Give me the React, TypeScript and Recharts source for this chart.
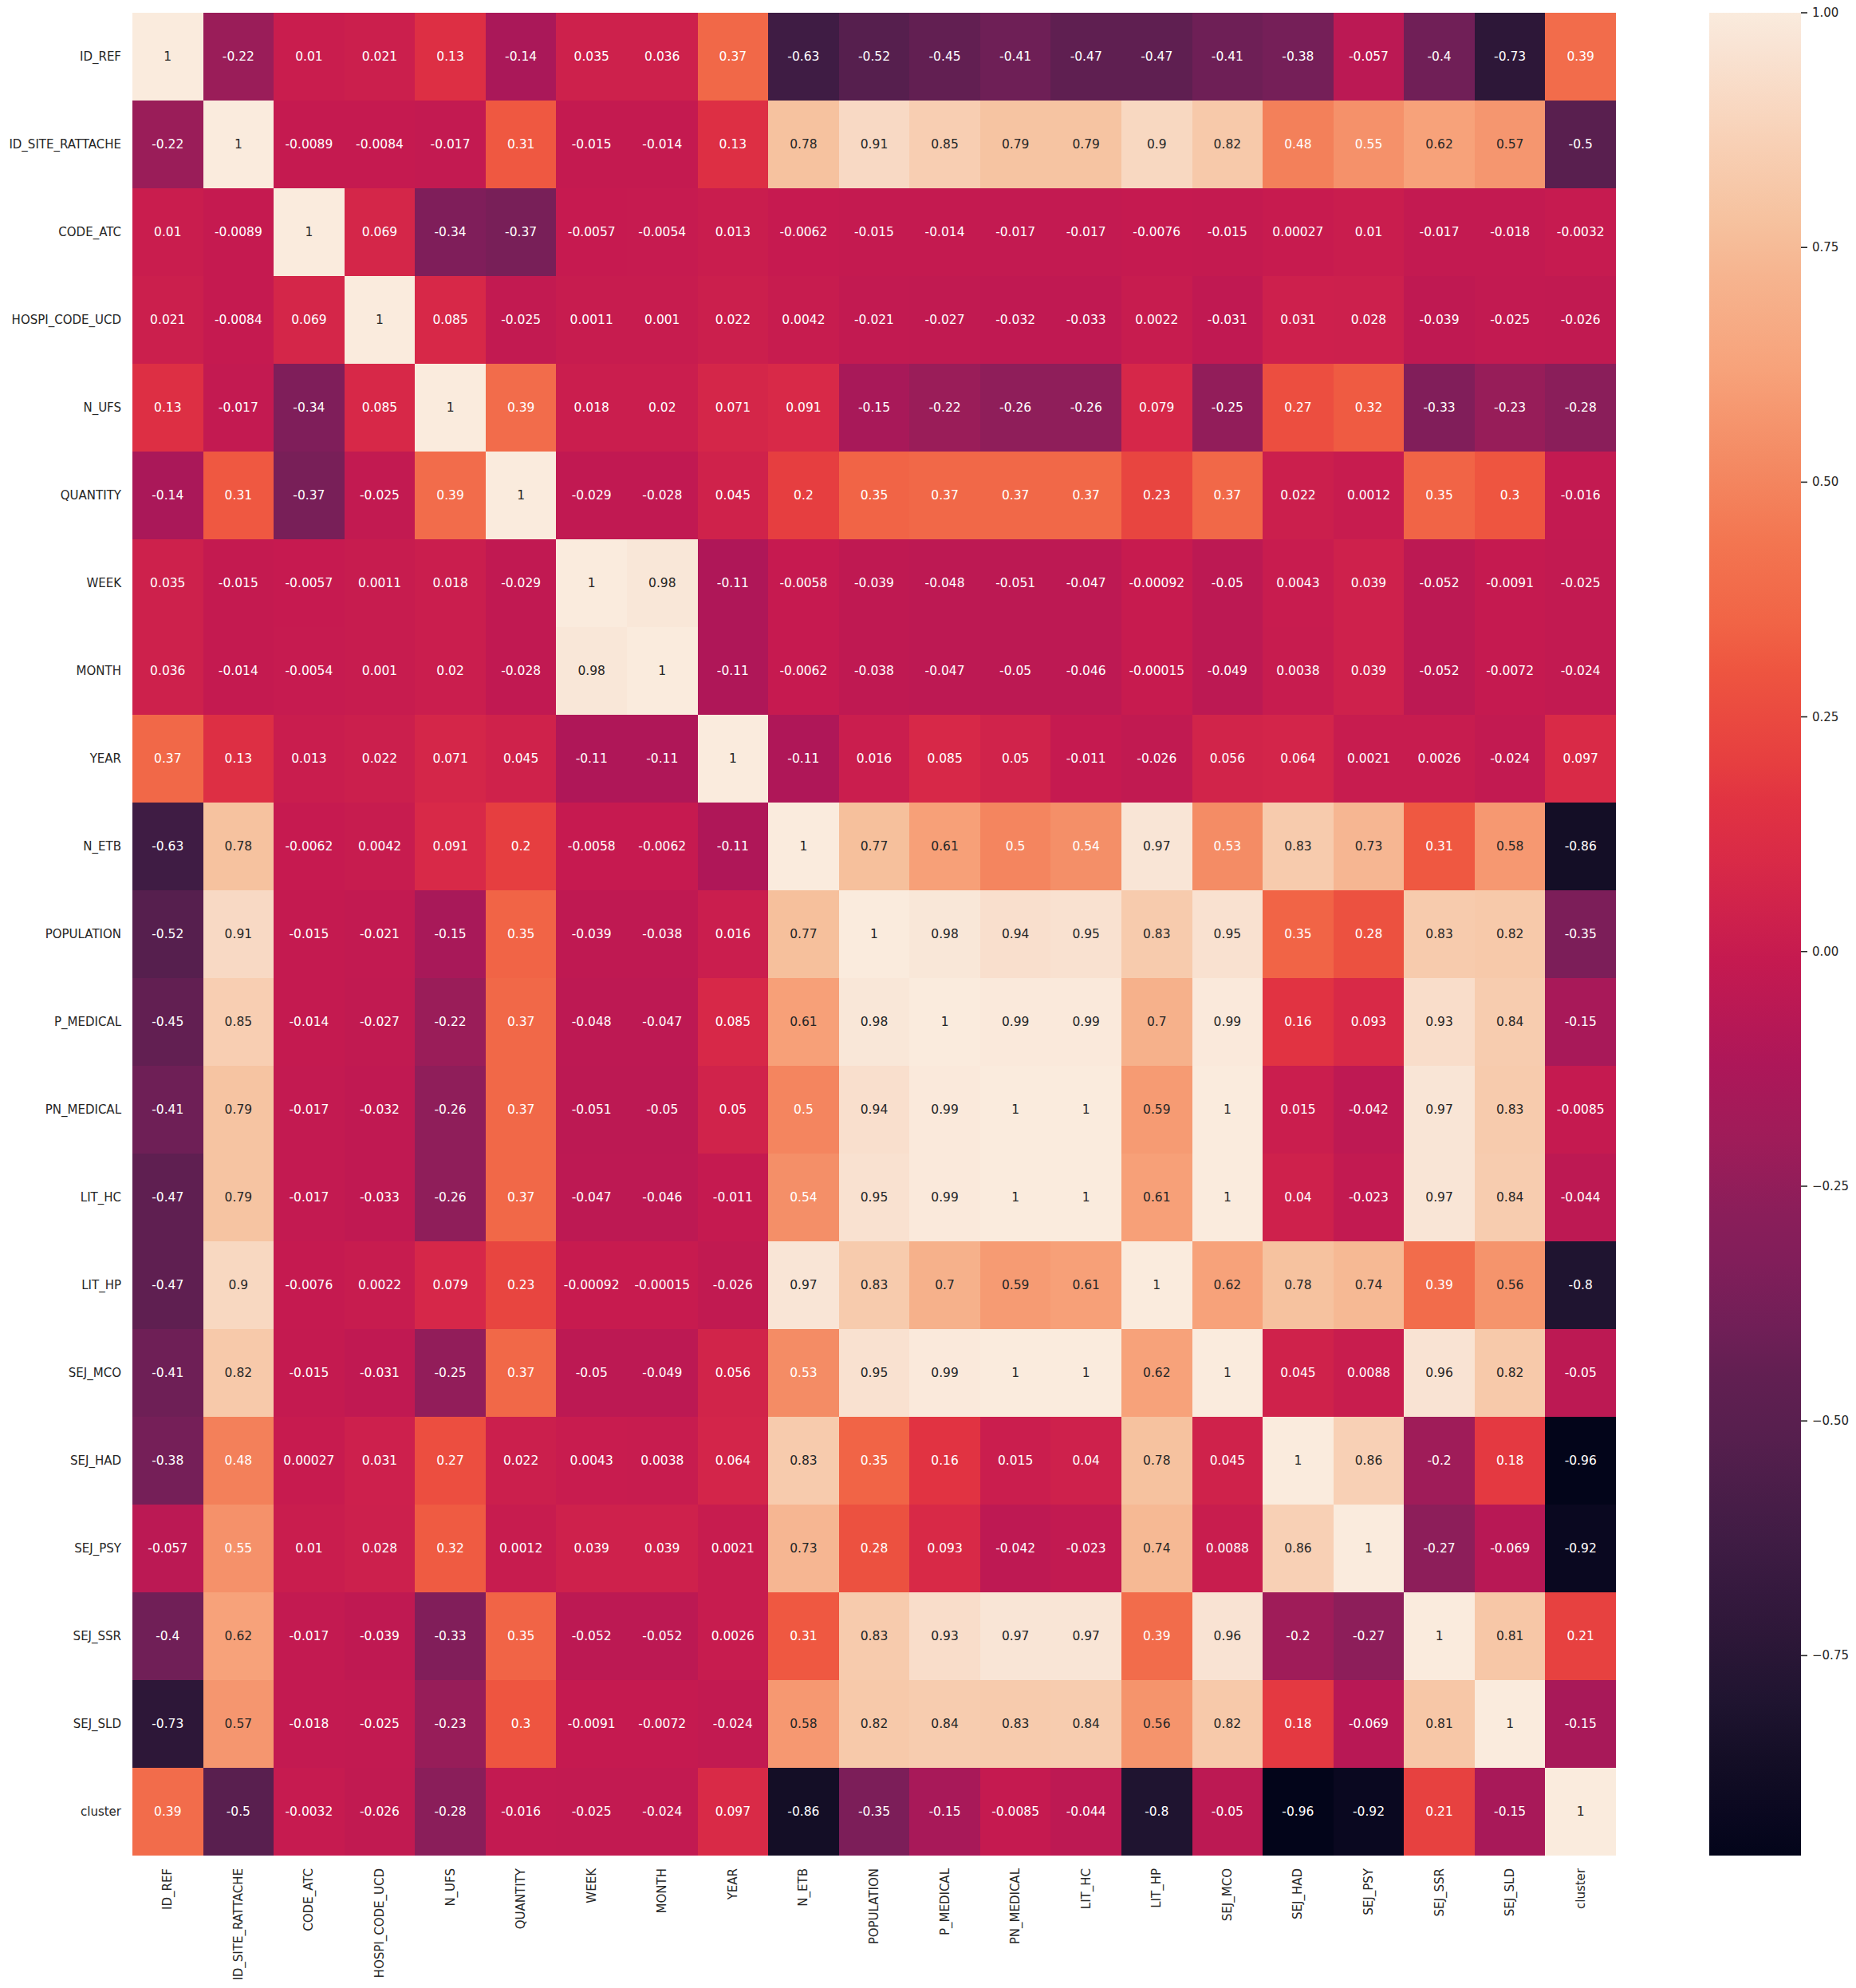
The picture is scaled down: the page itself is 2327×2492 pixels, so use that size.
import { ScatterChart, Scatter, XAxis, YAxis, BarChart, Bar } from 'recharts';

const LABELS = [
  'ID_REF', 'ID_SITE_RATTACHE', 'CODE_ATC', 'HOSPI_CODE_UCD', 'N_UFS', 'QUANTITY', 'WEEK',
  'MONTH', 'YEAR', 'N_ETB', 'POPULATION', 'P_MEDICAL', 'PN_MEDICAL', 'LIT_HC', 'LIT_HP',
  'SEJ_MCO', 'SEJ_HAD', 'SEJ_PSY', 'SEJ_SSR', 'SEJ_SLD', 'cluster',
];

// one row of the correlation matrix per variable
const ID_REF = [1, -0.22, 0.01, 0.021, 0.13, -0.14, 0.035, 0.036, 0.37, -0.63, -0.52, -0.45, -0.41, -0.47, -0.47, -0.41, -0.38, -0.057, -0.4, -0.73, 0.39];
const ID_SITE_RATTACHE = [-0.22, 1, -0.0089, -0.0084, -0.017, 0.31, -0.015, -0.014, 0.13, 0.78, 0.91, 0.85, 0.79, 0.79, 0.9, 0.82, 0.48, 0.55, 0.62, 0.57, -0.5];
const CODE_ATC = [0.01, -0.0089, 1, 0.069, -0.34, -0.37, -0.0057, -0.0054, 0.013, -0.0062, -0.015, -0.014, -0.017, -0.017, -0.0076, -0.015, 0.00027, 0.01, -0.017, -0.018, -0.0032];
const HOSPI_CODE_UCD = [0.021, -0.0084, 0.069, 1, 0.085, -0.025, 0.0011, 0.001, 0.022, 0.0042, -0.021, -0.027, -0.032, -0.033, 0.0022, -0.031, 0.031, 0.028, -0.039, -0.025, -0.026];
const N_UFS = [0.13, -0.017, -0.34, 0.085, 1, 0.39, 0.018, 0.02, 0.071, 0.091, -0.15, -0.22, -0.26, -0.26, 0.079, -0.25, 0.27, 0.32, -0.33, -0.23, -0.28];
const QUANTITY = [-0.14, 0.31, -0.37, -0.025, 0.39, 1, -0.029, -0.028, 0.045, 0.2, 0.35, 0.37, 0.37, 0.37, 0.23, 0.37, 0.022, 0.0012, 0.35, 0.3, -0.016];
const WEEK = [0.035, -0.015, -0.0057, 0.0011, 0.018, -0.029, 1, 0.98, -0.11, -0.0058, -0.039, -0.048, -0.051, -0.047, -0.00092, -0.05, 0.0043, 0.039, -0.052, -0.0091, -0.025];
const MONTH = [0.036, -0.014, -0.0054, 0.001, 0.02, -0.028, 0.98, 1, -0.11, -0.0062, -0.038, -0.047, -0.05, -0.046, -0.00015, -0.049, 0.0038, 0.039, -0.052, -0.0072, -0.024];
const YEAR = [0.37, 0.13, 0.013, 0.022, 0.071, 0.045, -0.11, -0.11, 1, -0.11, 0.016, 0.085, 0.05, -0.011, -0.026, 0.056, 0.064, 0.0021, 0.0026, -0.024, 0.097];
const N_ETB = [-0.63, 0.78, -0.0062, 0.0042, 0.091, 0.2, -0.0058, -0.0062, -0.11, 1, 0.77, 0.61, 0.5, 0.54, 0.97, 0.53, 0.83, 0.73, 0.31, 0.58, -0.86];
const POPULATION = [-0.52, 0.91, -0.015, -0.021, -0.15, 0.35, -0.039, -0.038, 0.016, 0.77, 1, 0.98, 0.94, 0.95, 0.83, 0.95, 0.35, 0.28, 0.83, 0.82, -0.35];
const P_MEDICAL = [-0.45, 0.85, -0.014, -0.027, -0.22, 0.37, -0.048, -0.047, 0.085, 0.61, 0.98, 1, 0.99, 0.99, 0.7, 0.99, 0.16, 0.093, 0.93, 0.84, -0.15];
const PN_MEDICAL = [-0.41, 0.79, -0.017, -0.032, -0.26, 0.37, -0.051, -0.05, 0.05, 0.5, 0.94, 0.99, 1, 1, 0.59, 1, 0.015, -0.042, 0.97, 0.83, -0.0085];
const LIT_HC = [-0.47, 0.79, -0.017, -0.033, -0.26, 0.37, -0.047, -0.046, -0.011, 0.54, 0.95, 0.99, 1, 1, 0.61, 1, 0.04, -0.023, 0.97, 0.84, -0.044];
const LIT_HP = [-0.47, 0.9, -0.0076, 0.0022, 0.079, 0.23, -0.00092, -0.00015, -0.026, 0.97, 0.83, 0.7, 0.59, 0.61, 1, 0.62, 0.78, 0.74, 0.39, 0.56, -0.8];
const SEJ_MCO = [-0.41, 0.82, -0.015, -0.031, -0.25, 0.37, -0.05, -0.049, 0.056, 0.53, 0.95, 0.99, 1, 1, 0.62, 1, 0.045, 0.0088, 0.96, 0.82, -0.05];
const SEJ_HAD = [-0.38, 0.48, 0.00027, 0.031, 0.27, 0.022, 0.0043, 0.0038, 0.064, 0.83, 0.35, 0.16, 0.015, 0.04, 0.78, 0.045, 1, 0.86, -0.2, 0.18, -0.96];
const SEJ_PSY = [-0.057, 0.55, 0.01, 0.028, 0.32, 0.0012, 0.039, 0.039, 0.0021, 0.73, 0.28, 0.093, -0.042, -0.023, 0.74, 0.0088, 0.86, 1, -0.27, -0.069, -0.92];
const SEJ_SSR = [-0.4, 0.62, -0.017, -0.039, -0.33, 0.35, -0.052, -0.052, 0.0026, 0.31, 0.83, 0.93, 0.97, 0.97, 0.39, 0.96, -0.2, -0.27, 1, 0.81, 0.21];
const SEJ_SLD = [-0.73, 0.57, -0.018, -0.025, -0.23, 0.3, -0.0091, -0.0072, -0.024, 0.58, 0.82, 0.84, 0.83, 0.84, 0.56, 0.82, 0.18, -0.069, 0.81, 1, -0.15];
const CLUSTER = [0.39, -0.5, -0.0032, -0.026, -0.28, -0.016, -0.025, -0.024, 0.097, -0.86, -0.35, -0.15, -0.0085, -0.044, -0.8, -0.05, -0.96, -0.92, 0.21, -0.15, 1];

const MATRIX = [
  ID_REF, ID_SITE_RATTACHE, CODE_ATC, HOSPI_CODE_UCD, N_UFS, QUANTITY, WEEK, MONTH, YEAR, N_ETB,
  POPULATION, P_MEDICAL, PN_MEDICAL, LIT_HC, LIT_HP, SEJ_MCO, SEJ_HAD, SEJ_PSY, SEJ_SSR, SEJ_SLD, CLUSTER,
];

const CBAR_TICKS = [-0.75, -0.5, -0.25, 0, 0.25, 0.5, 0.75, 1];
const VMIN = -0.963;
const VMAX = 1;

// rocket colormap, sampled
const ROCKET: [number, string][] = [
  [0, '#03051a'], [0.022, '#0a0820'], [0.0525, '#140e26'], [0.083, '#1f1430'],
  [0.119, '#2d1738'], [0.143, '#35193e'], [0.17, '#3f1c44'], [0.226, '#561f4e'],
  [0.261, '#621f52'], [0.286, '#701f57'], [0.322, '#811e5a'], [0.348, '#8a1e5a'],
  [0.389, '#9f1c59'], [0.429, '#ad1759'], [0.486, '#c51a50'], [0.54, '#d92a47'],
  [0.572, '#e13342'], [0.592, '#e63e40'], [0.643, '#ee5540'], [0.669, '#f16446'],
  [0.714, '#f37651'], [0.76, '#f48c65'], [0.806, '#f7a27a'], [0.857, '#f6b48f'],
  [0.888, '#f6c29f'], [0.929, '#f8d0b5'], [0.985, '#f9e5d6'], [1, '#faebdd'],
];

const FONT = 'DejaVu Sans, sans-serif';
const PLOT_W = 1860;
const PLOT_H = 2310;
const N = LABELS.length;
const CELL_W = PLOT_W / N;
const CELL_H = PLOT_H / N;
const TICKS = LABELS.map((_, i) => i + 0.5);

function hexToRgb(h: string) {
  const n = parseInt(h.slice(1), 16);
  return [(n >> 16) & 255, (n >> 8) & 255, n & 255];
}

function rocketRgb(v: number) {
  const t = Math.max(0, Math.min(1, (v - VMIN) / (VMAX - VMIN)));
  for (let i = 1; i < ROCKET.length; i++) {
    const [t1, c1] = ROCKET[i];
    if (t <= t1) {
      const [t0, c0] = ROCKET[i - 1];
      const f = (t - t0) / (t1 - t0);
      const a = hexToRgb(c0);
      const b = hexToRgb(c1);
      return a.map((x, k) => Math.round(x + (b[k] - x) * f));
    }
  }
  return hexToRgb(ROCKET[ROCKET.length - 1][1]);
}

function textColor(rgb: number[]) {
  const lin = rgb.map((c) => {
    const s = c / 255;
    return s <= 0.03928 ? s / 12.92 : Math.pow((s + 0.055) / 1.055, 2.4);
  });
  const lum = 0.2126 * lin[0] + 0.7152 * lin[1] + 0.0722 * lin[2];
  return lum > 0.408 ? '#262626' : '#ffffff';
}

function fmt(v: number) {
  let s = v.toPrecision(2);
  if (s.includes('.')) s = s.replace(/0+$/, '').replace(/\.$/, '');
  return s;
}

const cells = MATRIX.flatMap((row, i) => row.map((v, j) => ({ x: j + 0.5, y: i + 0.5, v })));

function renderCell(props: any) {
  const { cx, cy, payload } = props;
  const rgb = rocketRgb(payload.v);
  return (
    <g>
      <rect
        x={cx - CELL_W / 2}
        y={cy - CELL_H / 2}
        width={CELL_W}
        height={CELL_H}
        fill={`rgb(${rgb.join(',')})`}
        shapeRendering="crispEdges"
      />
      <text
        x={cx}
        y={cy}
        textAnchor="middle"
        dominantBaseline="central"
        fontSize={15.5}
        fontFamily={FONT}
        fill={textColor(rgb)}
      >
        {fmt(payload.v)}
      </text>
    </g>
  );
}

function XTick(props: any) {
  const { x, y, payload } = props;
  return (
    <text
      x={x}
      y={y}
      transform={`rotate(-90 ${x} ${y})`}
      textAnchor="end"
      dominantBaseline="central"
      fontSize={15}
      fontFamily={FONT}
      fill="#262626"
    >
      {LABELS[Math.floor(payload.value)]}
    </text>
  );
}

function YTick(props: any) {
  const { x, y, payload } = props;
  return (
    <text x={x} y={y} textAnchor="end" dominantBaseline="central" fontSize={15} fontFamily={FONT} fill="#262626">
      {LABELS[Math.floor(payload.value)]}
    </text>
  );
}

function CbarTick(props: any) {
  const { x, y, payload } = props;
  return (
    <text x={x} y={y} textAnchor="start" dominantBaseline="central" fontSize={15} fontFamily={FONT} fill="#262626">
      {payload.value.toFixed(2).replace('-', '\u2212')}
    </text>
  );
}

const cbarData = [{ k: 'cbar', r: [VMIN, VMAX] }];

export default function App() {
  return (
    <div style={{ position: 'absolute', left: 0, top: 0, width: 2327, height: 2492, background: '#fff' }}>
      <div style={{ position: 'absolute', left: 0, top: 0 }}>
        <ScatterChart width={2040} height={2492} margin={{ top: 16, right: 14, bottom: 0, left: 0 }}>
          <XAxis
            type="number"
            dataKey="x"
            domain={[0, N]}
            ticks={TICKS}
            interval={0}
            height={166}
            tickSize={0}
            tickMargin={16}
            axisLine={false}
            tickLine={false}
            tick={(p: any) => <XTick {...p} />}
            allowDataOverflow
          />
          <YAxis
            type="number"
            dataKey="y"
            domain={[0, N]}
            reversed
            ticks={TICKS}
            interval={0}
            width={166}
            tickSize={0}
            tickMargin={14}
            axisLine={false}
            tickLine={false}
            tick={(p: any) => <YTick {...p} />}
            allowDataOverflow
          />
          <Scatter data={cells} shape={renderCell} isAnimationActive={false} />
        </ScatterChart>
      </div>
      <div style={{ position: 'absolute', left: 2143, top: 0 }}>
        <BarChart
          width={184}
          height={2492}
          data={cbarData}
          margin={{ top: 16, right: 0, bottom: 166, left: 0 }}
          barCategoryGap={0}
        >
          <defs>
            <linearGradient id="rocketBar" x1="0" y1="1" x2="0" y2="0">
              {ROCKET.map(([t, c]) => (
                <stop key={t} offset={t} stopColor={c} />
              ))}
            </linearGradient>
          </defs>
          <XAxis dataKey="k" hide />
          <YAxis
            orientation="right"
            type="number"
            domain={[VMIN, VMAX]}
            ticks={CBAR_TICKS}
            interval={0}
            width={69}
            tickSize={8}
            tickMargin={6}
            axisLine={false}
            tickLine={{ stroke: '#262626', strokeWidth: 1.6 }}
            tick={(p: any) => <CbarTick {...p} />}
            allowDataOverflow
          />
          <Bar dataKey="r" fill="url(#rocketBar)" isAnimationActive={false} />
        </BarChart>
      </div>
    </div>
  );
}
